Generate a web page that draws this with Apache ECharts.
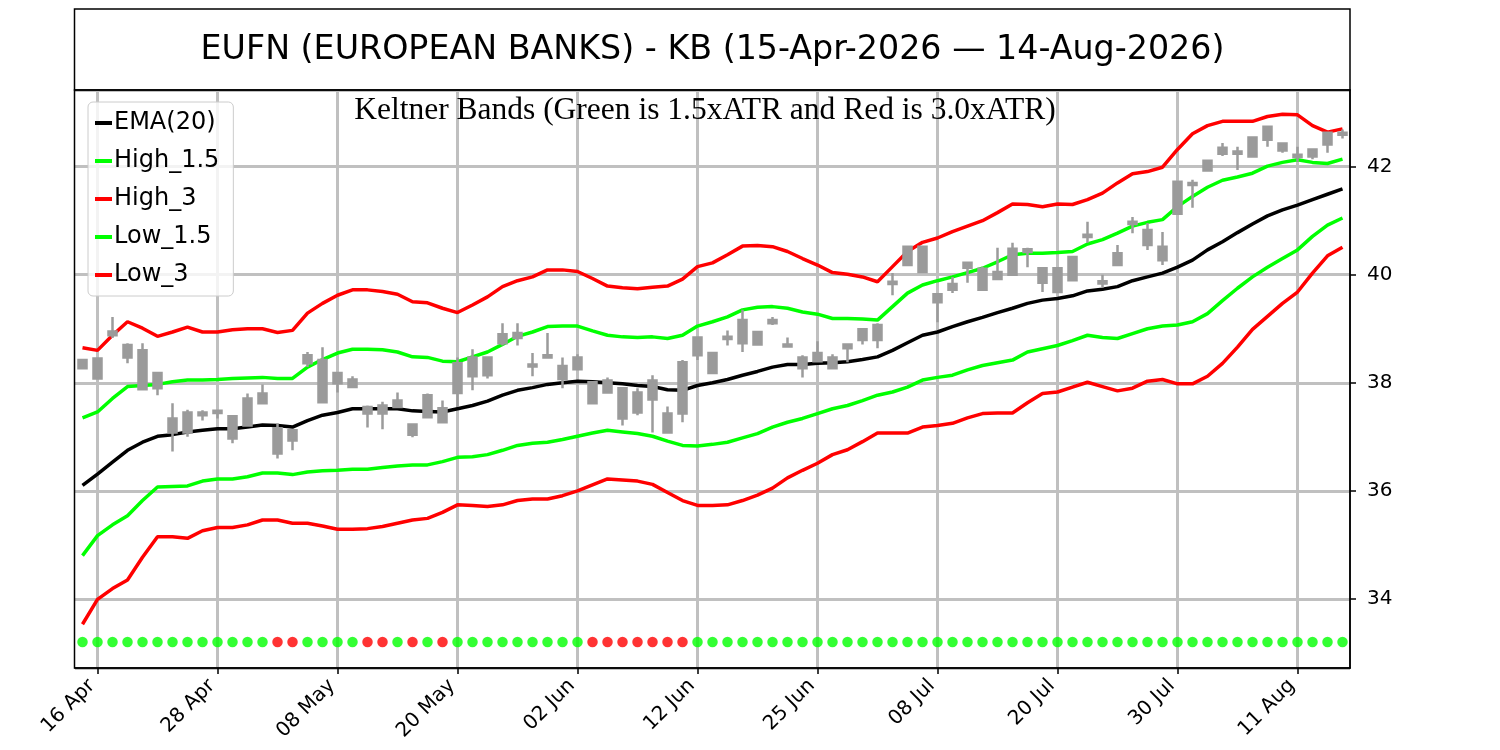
<!DOCTYPE html>
<html>
<head>
<meta charset="utf-8">
<title>EUFN Keltner Bands</title>
<script src="https://cdn.jsdelivr.net/npm/echarts@6.0.0/dist/echarts.min.js"></script>
<style>
html, body { margin: 0; padding: 0; background: #fff; }
#chart { width: 1500px; height: 750px; }
</style>
</head>
<body>
<div id="chart"></div>
<script>
// trading days 15-Apr-2026 .. 14-Aug-2026
var dates = [
	'15 Apr', '16 Apr', '17 Apr', '20 Apr', '21 Apr', '22 Apr', '23 Apr', '24 Apr', '27 Apr', '28 Apr', '29 Apr', '30 Apr',
	'01 May', '04 May', '05 May', '06 May', '07 May', '08 May', '11 May', '12 May', '13 May', '14 May', '15 May',
	'18 May', '19 May', '20 May', '21 May', '22 May', '26 May', '27 May', '28 May', '29 May',
	'01 Jun', '02 Jun', '03 Jun', '04 Jun', '05 Jun', '08 Jun', '09 Jun', '10 Jun', '11 Jun', '12 Jun',
	'15 Jun', '16 Jun', '17 Jun', '18 Jun', '22 Jun', '23 Jun', '24 Jun', '25 Jun', '26 Jun', '29 Jun', '30 Jun',
	'01 Jul', '02 Jul', '06 Jul', '07 Jul', '08 Jul', '09 Jul', '10 Jul', '13 Jul', '14 Jul', '15 Jul', '16 Jul', '17 Jul',
	'20 Jul', '21 Jul', '22 Jul', '23 Jul', '24 Jul', '27 Jul', '28 Jul', '29 Jul', '30 Jul', '31 Jul',
	'03 Aug', '04 Aug', '05 Aug', '06 Aug', '07 Aug', '10 Aug', '11 Aug', '12 Aug', '13 Aug', '14 Aug'
];

// candles (all drawn grey, so open/close are just the body ends)
var openVals = [38.27, 38.08, 38.88, 38.47, 37.88, 37.90, 37.08, 37.08, 37.40, 37.44,
	36.97, 37.21, 37.62, 36.69, 36.93, 38.36, 37.64, 37.99, 37.92, 37.43,
	37.43, 37.55, 37.04, 37.36, 37.27, 37.81, 38.12, 38.14, 38.73, 38.83,
	38.30, 38.47, 38.07, 38.25, 37.62, 37.82, 37.34, 37.45, 37.69, 37.08,
	37.43, 38.51, 38.18, 38.81, 38.73, 38.71, 39.10, 38.67, 38.27, 38.40,
	38.27, 38.64, 38.79, 38.79, 39.83, 40.18, 40.05, 39.49, 39.72, 40.13,
	39.72, 39.92, 40.00, 40.42, 39.85, 39.68, 39.90, 40.70, 39.84, 40.18,
	40.94, 40.55, 40.27, 41.13, 41.66, 41.93, 42.24, 42.24, 42.19, 42.50,
	42.30, 42.18, 42.19, 42.41, 42.59];
var closeVals = [38.42, 38.45, 38.95, 38.70, 38.60, 38.18, 37.34, 37.45, 37.45, 37.48,
	37.38, 37.71, 37.80, 37.16, 37.12, 38.51, 38.42, 38.18, 38.06, 37.55,
	37.58, 37.67, 37.23, 37.77, 37.53, 38.36, 38.47, 38.47, 38.90, 38.92,
	38.34, 38.51, 38.31, 38.47, 38.01, 38.04, 37.90, 37.82, 38.04, 37.43,
	38.38, 38.84, 38.55, 38.85, 39.16, 38.94, 39.16, 38.71, 38.47, 38.55,
	38.47, 38.71, 38.99, 39.07, 39.87, 40.52, 40.52, 39.64, 39.83, 40.22,
	40.11, 40.05, 40.48, 40.47, 40.12, 40.12, 40.33, 40.74, 39.88, 40.40,
	40.98, 40.83, 40.52, 41.72, 41.70, 42.11, 42.35, 42.28, 42.54, 42.74,
	42.43, 42.22, 42.32, 42.63, 42.63];
var lowVals = [38.25, 38.06, 38.83, 38.36, 37.88, 37.77, 36.73, 37.00, 37.30, 37.34,
	36.88, 37.21, 37.62, 36.60, 36.75, 38.29, 37.64, 37.82, 37.90, 37.17,
	37.14, 37.55, 36.99, 37.36, 37.25, 37.55, 37.86, 38.08, 38.69, 38.69,
	38.12, 38.47, 37.90, 38.25, 37.62, 37.82, 37.21, 37.40, 37.08, 37.08,
	37.27, 38.42, 38.18, 38.69, 38.57, 38.71, 39.07, 38.67, 38.10, 38.40,
	38.27, 38.38, 38.71, 38.64, 39.62, 40.16, 40.03, 39.12, 39.66, 39.85,
	39.70, 39.92, 40.00, 40.14, 39.68, 39.68, 39.90, 40.59, 39.76, 40.18,
	40.77, 40.46, 40.18, 41.13, 41.24, 41.93, 42.20, 41.94, 42.19, 42.37,
	42.26, 42.09, 42.14, 42.26, 42.52];
var highVals = [38.43, 38.46, 39.22, 38.73, 38.73, 38.20, 37.62, 37.50, 37.49, 37.50,
	37.40, 37.80, 37.97, 37.25, 37.14, 38.57, 38.66, 38.20, 38.12, 37.58,
	37.65, 37.82, 37.25, 37.80, 37.67, 38.47, 38.62, 38.48, 39.10, 39.10,
	38.55, 38.92, 38.47, 38.53, 38.03, 38.10, 37.92, 37.90, 38.14, 37.56,
	38.42, 38.86, 38.56, 38.97, 39.35, 38.95, 39.22, 38.84, 38.51, 38.77,
	38.53, 38.72, 39.00, 39.10, 40.03, 40.53, 40.53, 39.65, 39.96, 40.23,
	40.15, 40.50, 40.59, 40.50, 40.14, 40.13, 40.34, 40.98, 40.00, 40.55,
	41.07, 40.96, 40.79, 41.73, 41.76, 42.12, 42.44, 42.37, 42.55, 42.75,
	42.44, 42.37, 42.34, 42.64, 42.69];

var ema20 = [36.10, 36.31, 36.53, 36.75, 36.90, 37.01, 37.04, 37.09, 37.12, 37.15,
	37.15, 37.18, 37.22, 37.21, 37.18, 37.30, 37.40, 37.45, 37.52, 37.52,
	37.52, 37.52, 37.48, 37.47, 37.46, 37.52, 37.58, 37.66, 37.77, 37.86,
	37.91, 37.97, 38.00, 38.03, 38.02, 38.00, 37.98, 37.95, 37.93, 37.87,
	37.86, 37.95, 38.00, 38.06, 38.14, 38.21, 38.29, 38.34, 38.34, 38.36,
	38.37, 38.39, 38.43, 38.48, 38.60, 38.74, 38.88, 38.94, 39.04, 39.13,
	39.21, 39.30, 39.38, 39.47, 39.53, 39.56, 39.61, 39.70, 39.73, 39.78,
	39.89, 39.96, 40.03, 40.14, 40.27, 40.46, 40.61, 40.78, 40.94, 41.09,
	41.20, 41.29, 41.39, 41.49, 41.59];
var high15 = [37.35, 37.46, 37.71, 37.93, 37.95, 37.97, 38.02, 38.05, 38.05, 38.06,
	38.08, 38.09, 38.10, 38.08, 38.08, 38.29, 38.43, 38.55, 38.62, 38.62,
	38.61, 38.57, 38.48, 38.47, 38.40, 38.39, 38.48, 38.57, 38.71, 38.86,
	38.94, 39.04, 39.05, 39.05, 38.96, 38.88, 38.85, 38.84, 38.85, 38.82,
	38.88, 39.05, 39.13, 39.22, 39.35, 39.40, 39.41, 39.38, 39.31, 39.27,
	39.19, 39.19, 39.18, 39.16, 39.41, 39.66, 39.81, 39.89, 39.96, 40.04,
	40.12, 40.24, 40.37, 40.40, 40.40, 40.41, 40.43, 40.57, 40.65, 40.77,
	40.90, 40.97, 41.02, 41.26, 41.45, 41.62, 41.75, 41.81, 41.88, 42.01,
	42.08, 42.13, 42.08, 42.06, 42.14];
var high3 = [38.65, 38.60, 38.88, 39.13, 39.01, 38.86, 38.94, 39.03, 38.94, 38.94,
	38.98, 39.00, 39.00, 38.93, 38.97, 39.29, 39.47, 39.62, 39.72, 39.72,
	39.69, 39.64, 39.50, 39.48, 39.38, 39.30, 39.44, 39.59, 39.78, 39.89,
	39.96, 40.09, 40.09, 40.06, 39.93, 39.79, 39.76, 39.74, 39.77, 39.79,
	39.92, 40.15, 40.22, 40.37, 40.53, 40.54, 40.52, 40.43, 40.30, 40.18,
	40.04, 40.01, 39.96, 39.87, 40.15, 40.43, 40.60, 40.68, 40.80, 40.90,
	41.00, 41.15, 41.31, 41.30, 41.26, 41.31, 41.30, 41.39, 41.51, 41.70,
	41.87, 41.91, 41.99, 42.32, 42.61, 42.76, 42.84, 42.84, 42.84, 42.93,
	42.97, 42.96, 42.76, 42.64, 42.70];
var low15 = [34.80, 35.17, 35.37, 35.54, 35.82, 36.07, 36.08, 36.09, 36.18, 36.22,
	36.22, 36.26, 36.33, 36.33, 36.30, 36.35, 36.37, 36.38, 36.40, 36.40,
	36.43, 36.46, 36.48, 36.48, 36.54, 36.62, 36.63, 36.67, 36.75, 36.84,
	36.88, 36.90, 36.95, 37.01, 37.07, 37.12, 37.09, 37.06, 37.01, 36.92,
	36.84, 36.83, 36.86, 36.90, 36.98, 37.06, 37.18, 37.27, 37.34, 37.43,
	37.52, 37.58, 37.67, 37.77, 37.83, 37.92, 38.05, 38.10, 38.14, 38.24,
	38.32, 38.37, 38.42, 38.57, 38.63, 38.69, 38.78, 38.88, 38.84, 38.82,
	38.91, 39.00, 39.05, 39.07, 39.13, 39.28, 39.52, 39.75, 39.96, 40.14,
	40.30, 40.46, 40.71, 40.92, 41.05];
var low3 = [33.53, 33.99, 34.19, 34.35, 34.77, 35.15, 35.15, 35.12, 35.26, 35.32,
	35.32, 35.37, 35.46, 35.46, 35.40, 35.40, 35.35, 35.29, 35.29, 35.30,
	35.34, 35.40, 35.46, 35.49, 35.60, 35.74, 35.73, 35.71, 35.74, 35.82,
	35.85, 35.85, 35.91, 36.00, 36.11, 36.22, 36.20, 36.18, 36.12, 35.97,
	35.82, 35.73, 35.73, 35.74, 35.82, 35.92, 36.05, 36.24, 36.38, 36.51,
	36.67, 36.76, 36.91, 37.07, 37.07, 37.07, 37.18, 37.21, 37.25, 37.35,
	37.43, 37.44, 37.44, 37.63, 37.80, 37.83, 37.92, 38.01, 37.93, 37.85,
	37.90, 38.03, 38.06, 37.98, 37.98, 38.12, 38.36, 38.66, 38.99, 39.23,
	39.47, 39.68, 40.03, 40.35, 40.51];

// squeeze dots along the bottom: 1 = red, 0 = green
var squeeze = [0, 0, 0, 0, 0, 0, 0, 0, 0, 0, 0, 0, 0, 1, 1, 0, 0, 0, 0, 1,
	1, 0, 1, 0, 1, 0, 0, 0, 0, 0, 0, 0, 0, 0, 1, 1, 1, 1, 1, 1,
	1, 0, 0, 0, 0, 0, 0, 0, 0, 0, 0, 0, 0, 0, 0, 0, 0, 0, 0, 0,
	0, 0, 0, 0, 0, 0, 0, 0, 0, 0, 0, 0, 0, 0, 0, 0, 0, 0, 0, 0,
	0, 0, 0, 0, 0];
var dotLevel = 33.2;

var yMin = 32.72;
var yMax = 43.42;

// every 8th trading day gets a tick, starting at 16 Apr
function isTick(idx) {
	return (idx - 1) % 8 === 0;
}

var candles = [];
for (var i = 0; i < dates.length; i++) {
	candles.push([openVals[i], closeVals[i], lowVals[i], highVals[i]]);
}
var dots = [];
for (var i = 0; i < dates.length; i++) {
	dots.push({ value: [i, dotLevel], itemStyle: { color: squeeze[i] ? '#ff0000' : '#00ff00' } });
}

var myChart = echarts.init(document.getElementById('chart'));

function bandLine(name, data, color, z) {
	return {
		name: name,
		type: 'line',
		data: data,
		symbol: 'none',
		z: z,
		itemStyle: { color: color },
		lineStyle: { color: color, width: 3.5 }
	};
}

var option = {
	animation: false,
	backgroundColor: '#fff',
	textStyle: { fontFamily: 'DejaVu Sans' },
	grid: { left: 75, right: 150, top: 90, bottom: 82, containLabel: false },
	legend: {
		orient: 'vertical',
		left: 88,
		top: 102,
		icon: 'rect',
		itemWidth: 17,
		itemHeight: 4,
		itemGap: 14,
		padding: [9, 14, 9, 7],
		borderColor: '#cccccc',
		borderWidth: 1,
		borderRadius: 5,
		backgroundColor: 'rgba(255,255,255,0.8)',
		textStyle: { fontSize: 24, color: '#000', fontFamily: 'DejaVu Sans', padding: [0, 0, 0, -3] },
		data: ['EMA(20)', 'High_1.5', 'High_3', 'Low_1.5', 'Low_3']
	},
	xAxis: {
		type: 'category',
		data: dates,
		boundaryGap: true,
		axisLine: { show: true, lineStyle: { color: '#000', width: 1.5 } },
		axisTick: { show: true, alignWithLabel: true, interval: isTick, length: 6, lineStyle: { color: '#000', width: 1.5 } },
		axisLabel: { interval: isTick, rotate: 45, fontSize: 20, color: '#000', margin: 9, padding: [0, 8, 0, 0], fontFamily: 'DejaVu Sans' },
		splitLine: { show: true, alignWithLabel: true, interval: isTick, lineStyle: { color: '#c0c0c0', width: 3 } }
	},
	yAxis: {
		type: 'value',
		position: 'right',
		min: yMin,
		max: yMax,
		splitNumber: 5,
		axisLine: { show: true, lineStyle: { color: '#000', width: 1.5 } },
		axisTick: { show: true, length: 6, lineStyle: { color: '#000', width: 1.5 } },
		axisLabel: { fontSize: 20, color: '#000', margin: 17, showMinLabel: false, showMaxLabel: false, fontFamily: 'DejaVu Sans' },
		splitLine: { show: true, lineStyle: { color: '#c0c0c0', width: 3 } }
	},
	graphic: [
		{ type: 'rect', z: 100, silent: true, shape: { x: 74.5, y: 9, width: 1275.5, height: 81 },
			style: { fill: 'none', stroke: '#000', lineWidth: 1.5 } },
		{ type: 'rect', z: 100, silent: true, shape: { x: 74.5, y: 90, width: 1275.5, height: 578 },
			style: { fill: 'none', stroke: '#000', lineWidth: 1.5 } },
		{ type: 'text', z: 100, x: 712.5, y: 50, silent: true,
			style: { text: 'EUFN (EUROPEAN BANKS) - KB (15-Apr-2026 \u2014 14-Aug-2026)', fill: '#000',
				font: '33.3px "DejaVu Sans"', textAlign: 'center', textVerticalAlign: 'middle' } },
		{ type: 'text', z: 100, x: 705, y: 111, silent: true,
			style: { text: 'Keltner Bands (Green is 1.5xATR and Red is 3.0xATR)', fill: '#000',
				font: '31.5px "Liberation Serif"', textAlign: 'center', textVerticalAlign: 'middle' } }
	],
	series: [
		bandLine('EMA(20)', ema20, '#000000', 3),
		bandLine('High_1.5', high15, '#00ff00', 3),
		bandLine('High_3', high3, '#ff0000', 3),
		bandLine('Low_1.5', low15, '#00ff00', 3),
		bandLine('Low_3', low3, '#ff0000', 3),
		{
			name: 'Price',
			type: 'candlestick',
			data: candles,
			barWidth: 8,
			z: 4,
			itemStyle: {
				color: '#9b9b9b', color0: '#9b9b9b',
				borderColor: '#9b9b9b', borderColor0: '#9b9b9b',
				borderWidth: 2.5
			}
		},
		{
			name: 'Squeeze',
			type: 'scatter',
			data: dots,
			symbolSize: 10.5,
			z: 4
		}
	]
};
myChart.setOption(option);
</script>
</body>
</html>
